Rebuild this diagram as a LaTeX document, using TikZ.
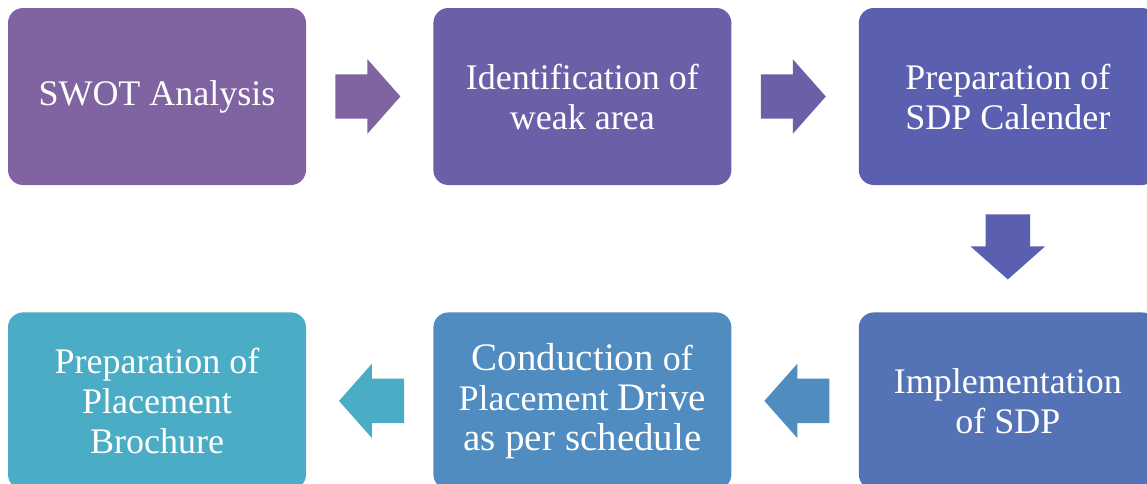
\documentclass[tikz,border=0pt]{standalone}
\usepackage{fontspec}
\setmainfont{Liberation Serif}
\usetikzlibrary{positioning,shapes.arrows,calc}
\definecolor{stepA}{HTML}{8064A2}
\definecolor{stepB}{HTML}{6C5FA7}
\definecolor{stepC}{HTML}{5A5FAF}
\definecolor{stepD}{HTML}{5472B6}
\definecolor{stepE}{HTML}{508CC0}
\definecolor{stepF}{HTML}{4BACC6}
\begin{document}
\begin{tikzpicture}[x=1pt, y=-1pt,
    stepbox/.style={rounded corners=15pt, minimum width=298pt, minimum height=177pt,
        inner sep=0pt, text=white, align=center, font=\fontsize{36}{40}\selectfont},
    blockarrow/.style={single arrow, anchor=tail, minimum height=65pt, inner xsep=0pt, inner ysep=22pt,
        single arrow head extend=15pt, single arrow tip angle=97},
    downarrow/.style={blockarrow, shape border rotate=270, inner xsep=22pt, inner ysep=0pt}]
    \useasboundingbox (0,0) rectangle (1147,483);
    \node[stepbox, fill=stepA] (swot) at (157,96.5) {SWOT Analysis};
    \node[stepbox, fill=stepB, right=127pt of swot] (weak) {Identification of\\weak area};
    \node[stepbox, fill=stepC, right=127pt of weak] (calendar) {Preparation of\\SDP Calender};
    \node[stepbox, fill=stepD, below=127pt of calendar] (implement) {Implementation\\of SDP};
    \node[stepbox, fill=stepE, left=127pt of implement] (drive)
        {{\fontsize{39}{41}\selectfont Conduction} of\\Placement {\fontsize{39}{41}\selectfont Drive}\\{\fontsize{39}{41}\selectfont as per schedule}};
    \node[stepbox, fill=stepF, left=127pt of drive] (brochure) {Preparation of\\Placement\\Brochure};

    \node[blockarrow, fill=stepA] (a1) at ($(swot.east)+(29pt,0pt)$) {};
    \node[blockarrow, fill=stepB] (a2) at ($(weak.east)+(29pt,0pt)$) {};
    \node[downarrow, fill=stepC] (a3) at ($(calendar.south)+(0pt,-29pt)$) {};
    \node[blockarrow, fill=stepE, shape border rotate=180] (a4) at ($(implement.west)+(-29pt,0pt)$) {};
    \node[blockarrow, fill=stepF, shape border rotate=180] (a5) at ($(drive.west)+(-29pt,0pt)$) {};
\end{tikzpicture}
\end{document}
